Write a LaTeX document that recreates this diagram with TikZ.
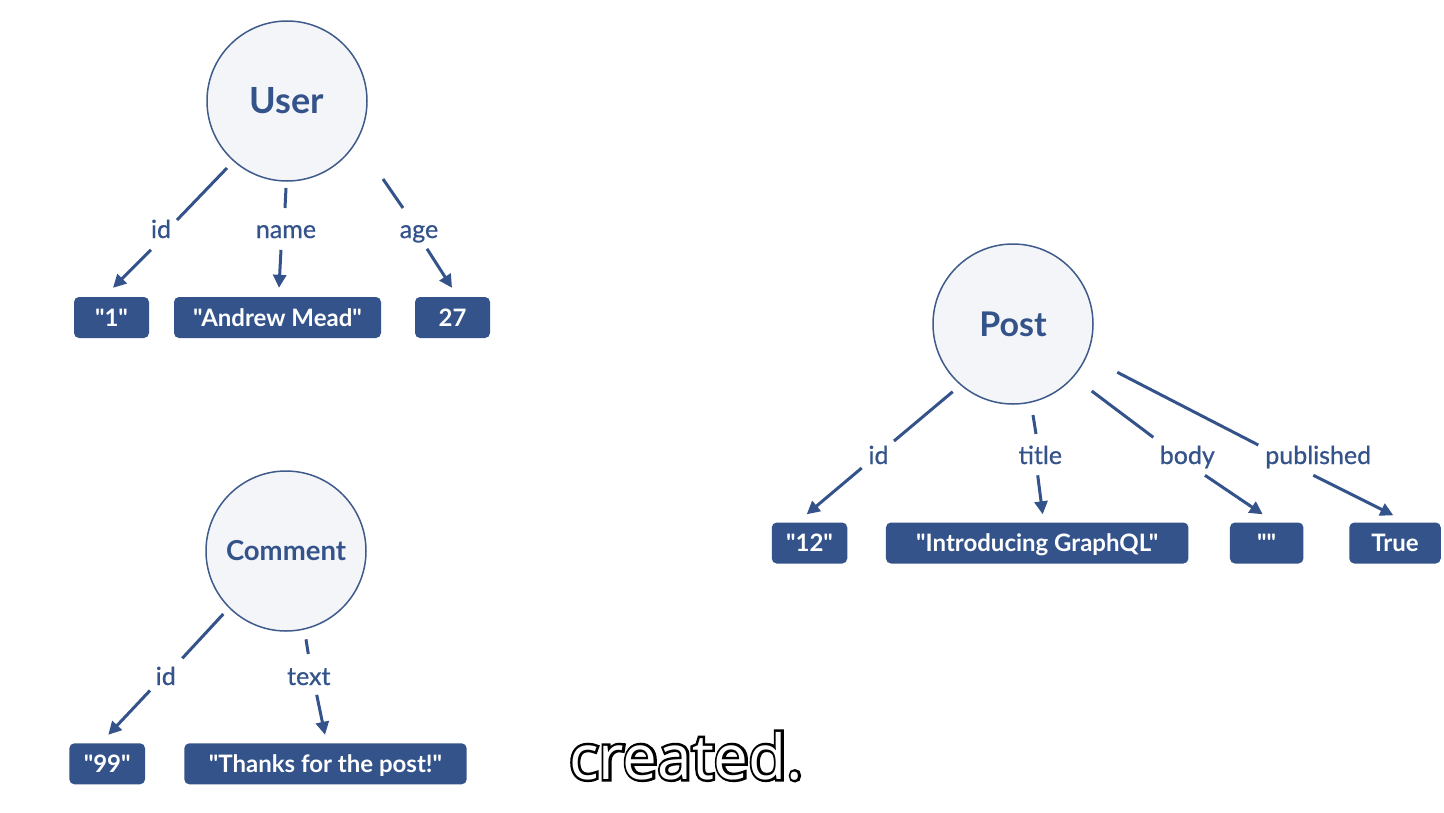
\documentclass[tikz,border=0pt]{standalone}
\usepackage{fontspec}
\setmainfont{Lato}[Ligatures=TeXOff]
\newfontfamily\lblfont{Lato}[Ligatures=TeXOff,FakeBold=0.7]
\newfontfamily\subfont{Open Sans}
\newfontfamily\subfontoutline{Open Sans}[FakeBold=8]
\usetikzlibrary{arrows.meta,calc}
\definecolor{navy}{HTML}{34538A}
\definecolor{circfill}{HTML}{F3F5F8}
\definecolor{circline}{HTML}{3F5B8B}
\begin{document}
\begin{tikzpicture}[x=1pt,y=-1pt,
  entity/.style={circle,draw=circline,fill=circfill,line width=1.5pt,minimum size=160pt,inner sep=0pt,text=navy},
  valbox/.style={rectangle,rounded corners=5pt,fill=navy,text=white,font=\bfseries\fontsize{24}{24}\selectfont,minimum height=41pt,inner sep=0pt,text height=17pt,text depth=0pt},
  fieldlbl/.style={text=navy,font=\lblfont\fontsize{25}{25}\selectfont,anchor=base,inner sep=0pt},
  link/.style={draw=navy,line width=3pt},
  arrowlink/.style={link,-{Triangle[length=13pt,width=13pt]}},
  subtxt/.style={font=\subfont\fontsize{62}{62}\selectfont,anchor=base west,inner sep=0pt}
]
\useasboundingbox (0,0) rectangle (1444,812);
\fill[white] (0,0) rectangle (1444,812);

% ---------- User ----------
\node[entity,font=\bfseries\fontsize{36}{36}\selectfont] (user) at (287,101) {User};
\node[valbox,minimum width=75pt]  (u1)    at (111.5,317.5) {"1"};
\node[valbox,minimum width=207pt] (uname) at (277.5,317.5) {"Andrew Mead"};
\node[valbox,minimum width=75pt]  (uage)  at (452.5,317.5) {27};
\node[fieldlbl] (luid)   at (161,238) {id};
\node[fieldlbl] (luname) at (286,238) {name};
\node[fieldlbl] (luage)  at (419,238) {age};
\draw[link] ($(user)+(-60,67)$) -- ($(user)+(-110,119)$);
\draw[arrowlink] ($(u1.north)+(39.5,-47)$) -- ($(u1.north)+(1.5,-9)$);
\draw[link] ($(user)+(-1,87)$) -- ($(user)+(-2,107)$);
\draw[arrowlink] ($(uname.north)+(3.5,-47)$) -- ($(uname.north)+(1.5,-9)$);
\draw[link] ($(user)+(96,78)$) -- ($(user)+(116,107)$);
\draw[arrowlink] ($(uage.north)+(-25.5,-48)$) -- ($(uage.north)+(-0.5,-9)$);

% ---------- Post ----------
\node[entity,font=\bfseries\fontsize{34}{34}\selectfont] (post) at (1013,324) {Post};
\node[valbox,minimum width=75.5pt]  (p12)   at (809.5,543) {"12"};
\node[valbox,minimum width=302.5pt] (ptitle) at (1037.2,543) {"Introducing GraphQL"};
\node[valbox,minimum width=73.5pt]  (pbody) at (1266.7,543) {""};
\node[valbox,minimum width=91.5pt]  (ptrue) at (1395,543) {True};
\node[fieldlbl] (lpid)    at (878.5,464) {id};
\node[fieldlbl] (lptitle) at (1040.3,464) {title};
\node[fieldlbl] (lpbody)  at (1187.3,464) {body};
\node[fieldlbl] (lppub)   at (1318.2,464) {published};
\draw[link] ($(post)+(-60.3,67.7)$) -- ($(post)+(-119,117)$);
\draw[arrowlink] ($(p12.north)+(52.2,-54.3)$) -- ($(p12.north)+(-2.8,-8)$);
\draw[link] ($(post)+(20,91)$) -- ($(post)+(23,110)$);
\draw[arrowlink] ($(ptitle.north)+(0.5,-47)$) -- ($(ptitle.north)+(5.5,-8)$);
\draw[link] ($(post)+(78.7,67)$) -- ($(post)+(140.3,113.3)$);
\draw[arrowlink] ($(pbody.north)+(-61.7,-47)$) -- ($(pbody.north)+(-4,-8)$);
\draw[link] ($(post)+(104.3,48.3)$) -- ($(post)+(245.3,121)$);
\draw[arrowlink] ($(ptrue.north)+(-81.7,-47)$) -- ($(ptrue.north)+(-1.7,-7)$);

% ---------- Comment ----------
\node[entity,font=\bfseries\fontsize{27.5}{27.5}\selectfont] (comment) at (286,551) {Comment};
\node[valbox,minimum width=75.7pt]  (c99)    at (107.2,763.8) {"99"};
\node[valbox,minimum width=282.4pt] (cthanks) at (325.5,763.8) {"Thanks for the post!"};
\node[fieldlbl] (lcid)   at (165.8,685) {id};
\node[fieldlbl] (lctext) at (308.8,685) {text};
\draw[link] ($(comment)+(-62.7,63)$) -- ($(comment)+(-103.7,107.3)$);
\draw[arrowlink] ($(c99.north)+(42.8,-52.6)$) -- ($(c99.north)+(1.1,-8.3)$);
\draw[link] ($(comment)+(20,88.3)$) -- ($(comment)+(22.3,103)$);
\draw[arrowlink] ($(cthanks.north)+(-8.8,-48.3)$) -- ($(cthanks.north)+(-0.5,-8.3)$);

% ---------- subtitle ----------
\coordinate (subpos) at (569,779);
\node[subtxt,font=\subfontoutline\fontsize{62}{62}\selectfont,text=black] (subout) at (subpos) {created.};
\node[subtxt,text=white] (sub) at (subpos) {created.};
\end{tikzpicture}
\end{document}
